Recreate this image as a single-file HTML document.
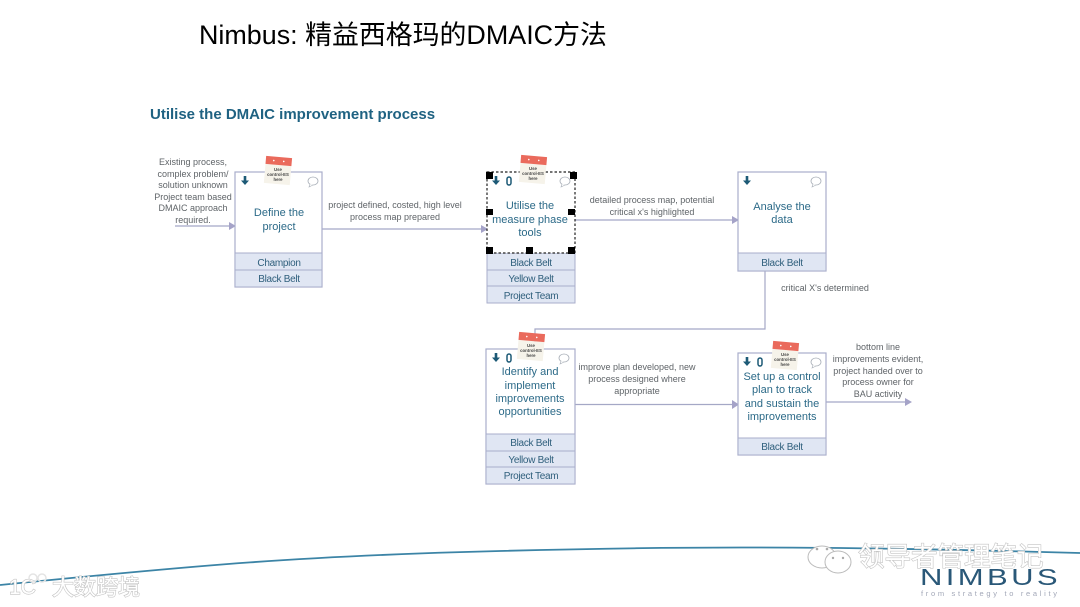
<!DOCTYPE html>
<html><head><meta charset="utf-8"><style>
html,body{margin:0;padding:0;background:#fff;width:1080px;height:607px;overflow:hidden}
svg{display:block;filter:blur(.35px)}
text{font-family:"Liberation Sans","Noto Sans CJK SC",sans-serif}
.l{font-size:9px;fill:#5f6468;text-anchor:middle}
.t{font-size:11px;fill:#2c6a88;text-anchor:middle}
.r{font-size:10px;fill:#2f5f7c;text-anchor:middle;letter-spacing:-.3px}
.b{fill:#fff;stroke:#a9aecb;stroke-width:1.2}
.d{fill:#e0e6f3;stroke:#a9aecb;stroke-width:1}
.c{fill:none;stroke:#a5a8c6;stroke-width:1.2}
.a{fill:#a5a3c8}
.h{fill:#000}
.w{fill:#fff;stroke:#c4c4c4;stroke-width:1.2;paint-order:stroke}
</style></head><body>
<svg width="1080" height="607" viewBox="0 0 1080 607" xmlns="http://www.w3.org/2000/svg">
<defs>
<g id="note"><g transform="rotate(5 13 13)"><rect x="0" y="8" width="26" height="19" fill="#f6f3ea"/><rect x="0" y="0" width="26" height="8" fill="#ea6a5c"/><circle cx="8" cy="4" r=".8" fill="#fff"/><circle cx="18" cy="4" r=".8" fill="#fff"/></g>
<text x="13" y="14" font-size="4.3" font-weight="bold" fill="#444" text-anchor="middle">Use</text><text x="13" y="19" font-size="4.3" font-weight="bold" fill="#444" text-anchor="middle">control-ES</text><text x="13" y="24" font-size="4.3" font-weight="bold" fill="#444" text-anchor="middle">here</text></g>
<g id="dn"><path d="M-1.3 -5H1.3V-.5H4L0 4L-4 -.5H-1.3Z" fill="#1d5a76"/></g>
<g id="clip"><rect x="-2" y="-4" width="4" height="8" rx="2" fill="none" stroke="#1d5a76" stroke-width="1.5"/></g>
<g id="bub"><ellipse cx="0" cy="0" rx="5" ry="4" fill="#fff" stroke="#a9afb8" stroke-width=".8"/><path d="M-3 3L-4 6L0 4" fill="#fff" stroke="#a9afb8" stroke-width=".6"/></g>
</defs>

<text x="199" y="44" font-size="26.900" fill="#000">Nimbus: 精益西格玛的DMAIC方法</text>
<text x="150" y="119" font-size="15" font-weight="bold" fill="#1f6282">Utilise the DMAIC improvement process</text>

<!-- connectors -->
<path class="c" d="M175 226H230"/><path class="a" d="M229 222L236 226L229 230Z"/>
<path class="c" d="M322 229H482"/><path class="a" d="M481 225L488 229L481 233Z"/>
<path class="c" d="M575 220H733"/><path class="a" d="M732 216L739 220L732 224Z"/>
<path class="c" d="M765 271V329H535V349"/>
<path class="c" d="M575 404.500H733"/><path class="a" d="M732 400L739 404.500L732 409Z"/>
<path class="c" d="M826 402H906"/><path class="a" d="M905 398L912 402L905 406Z"/>

<!-- box 1 -->
<rect class="b" x="235" y="172" width="87" height="115"/>
<rect class="d" x="235" y="253" width="87" height="17"/><rect class="d" x="235" y="270" width="87" height="17"/>
<use href="#dn" x="245" y="181"/><use href="#bub" x="313" y="181"/><use href="#note" x="265" y="157"/>
<text class="t" x="279" y="216">Define the</text><text class="t" x="279" y="230">project</text>
<text class="r" x="279" y="266">Champion</text><text class="r" x="279" y="282">Black Belt</text>

<!-- box 2 -->
<rect class="d" x="487" y="253" width="88" height="17"/><rect class="d" x="487" y="270" width="88" height="16"/><rect class="d" x="487" y="286" width="88" height="17"/>
<rect x="487" y="172" width="88" height="81" fill="#fff" stroke="#222" stroke-width="1.2" stroke-dasharray="2.500 2"/>
<use href="#dn" x="496" y="181"/><use href="#clip" x="509" y="181"/><use href="#bub" x="565" y="181"/><use href="#note" x="520" y="156"/>
<rect class="h" x="486" y="172" width="7" height="7"/><rect class="h" x="570" y="172" width="7" height="7"/>
<rect class="h" x="486" y="209" width="7" height="6"/><rect class="h" x="568" y="209" width="7" height="6"/>
<rect class="h" x="486" y="247" width="7" height="7"/><rect class="h" x="526" y="247" width="7" height="7"/><rect class="h" x="568" y="247" width="7" height="7"/>
<text class="t" x="530" y="209">Utilise the</text><text class="t" x="530" y="223">measure phase</text><text class="t" x="530" y="236">tools</text>
<text class="r" x="531" y="266">Black Belt</text><text class="r" x="531" y="282">Yellow Belt</text><text class="r" x="531" y="299">Project Team</text>

<!-- box 3 -->
<rect class="b" x="738" y="172" width="88" height="99"/>
<rect class="d" x="738" y="253" width="88" height="18"/>
<use href="#dn" x="747" y="181"/><use href="#bub" x="816" y="181"/>
<text class="t" x="782" y="210">Analyse the</text><text class="t" x="782" y="223">data</text>
<text class="r" x="782" y="266">Black Belt</text>

<!-- box 4 -->
<rect class="b" x="486" y="349" width="89" height="135"/>
<rect class="d" x="486" y="434" width="89" height="17"/><rect class="d" x="486" y="451" width="89" height="16"/><rect class="d" x="486" y="467" width="89" height="17"/>
<use href="#dn" x="496" y="358"/><use href="#clip" x="509" y="358"/><use href="#bub" x="564" y="358"/><use href="#note" x="518" y="333"/>
<text class="t" x="530" y="375">Identify and</text><text class="t" x="530" y="389">implement</text><text class="t" x="530" y="402">improvements</text><text class="t" x="530" y="415">opportunities</text>
<text class="r" x="531" y="446">Black Belt</text><text class="r" x="531" y="463">Yellow Belt</text><text class="r" x="531" y="479">Project Team</text>

<!-- box 5 -->
<rect class="b" x="738" y="353" width="88" height="102"/>
<rect class="d" x="738" y="438" width="88" height="17"/>
<use href="#dn" x="747" y="362"/><use href="#clip" x="760" y="362"/><use href="#bub" x="816" y="362"/><use href="#note" x="772" y="342"/>
<text class="t" x="782" y="380">Set up a control</text><text class="t" x="782" y="393">plan to track</text><text class="t" x="782" y="407">and sustain the</text><text class="t" x="782" y="420">improvements</text>
<text class="r" x="782" y="450">Black Belt</text>

<!-- labels -->
<text class="l" x="193" y="165">Existing process,</text><text class="l" x="193" y="177">complex problem/</text><text class="l" x="193" y="188">solution unknown</text><text class="l" x="193" y="200">Project team based</text><text class="l" x="193" y="211">DMAIC approach</text><text class="l" x="193" y="223">required.</text>
<text class="l" x="395" y="208">project defined, costed, high level</text><text class="l" x="395" y="220">process map prepared</text>
<text class="l" x="652" y="203">detailed process map, potential</text><text class="l" x="652" y="215">critical x's highlighted</text>
<text class="l" x="825" y="291">critical X's determined</text>
<text class="l" x="637" y="370">improve plan developed, new</text><text class="l" x="637" y="382">process designed where</text><text class="l" x="637" y="394">appropriate</text>
<text class="l" x="878" y="350">bottom line</text><text class="l" x="878" y="362">improvements evident,</text><text class="l" x="878" y="374">project handed over to</text><text class="l" x="878" y="385">process owner for</text><text class="l" x="878" y="397">BAU activity</text>

<!-- footer -->
<path d="M0 585C200 565 300 556 500 551C650 547 800 545 1080 553" fill="none" stroke="#3c84a6" stroke-width="1.8"/>
<text transform="translate(920 585) scale(1.35 1)" font-size="23" letter-spacing="2.500" fill="#2a5878">NIMBUS</text>
<text x="921" y="596" font-size="7.500" textLength="136" lengthAdjust="spacing" fill="#a3a8b8">from strategy to reality</text>

<!-- watermarks -->
<text class="w" x="9" y="594" font-size="21">1C</text>
<g fill="none" stroke="#e4e4e4" stroke-width="1.500"><circle cx="33" cy="578" r="4"/><circle cx="42" cy="578" r="4"/></g>
<text class="w" x="52" y="595" font-size="22">大数跨境</text>
<g fill="#fff" stroke="#bbb" stroke-width="1"><ellipse cx="822" cy="557" rx="14" ry="11"/><ellipse cx="838" cy="562" rx="13" ry="11"/></g>
<g fill="#aaa"><circle cx="817" cy="549" r="1.300"/><circle cx="827" cy="549" r="1.300"/><circle cx="833" cy="558" r="1.200"/><circle cx="843" cy="558" r="1.200"/></g>
<text class="w" x="858" y="566" font-size="26.500">领导者管理笔记</text>
</svg>
</body></html>
